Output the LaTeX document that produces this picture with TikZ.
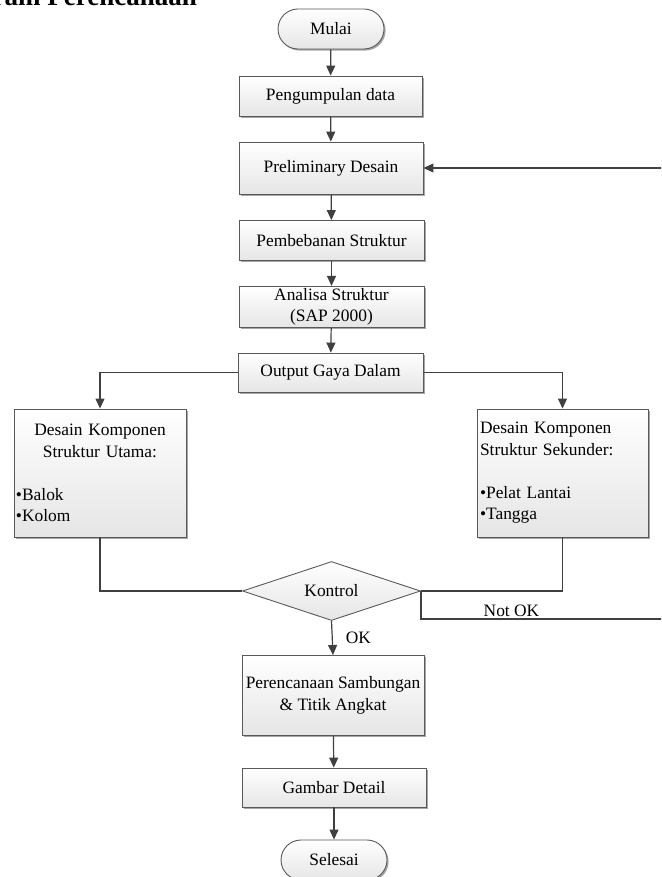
\documentclass[tikz,border=0pt]{standalone}
\usepackage{fontspec}
\setmainfont{Liberation Serif}
\usetikzlibrary{shapes,arrows.meta,positioning,shadows}

\begin{document}
\begin{tikzpicture}[x=1pt,y=-1pt,
  font=\fontsize{17.4}{21.5}\selectfont,
  proses/.style={draw=black!65, line width=0.9pt, top color=white, bottom color=black!10,
    inner sep=2pt, align=center,
    drop shadow={shadow xshift=1.6pt, shadow yshift=-1.6pt, fill=black!35, opacity=1}},
  terminal/.style={proses, rounded corners=20pt},
  keputusan/.style={diamond, draw=black!65, line width=0.9pt, top color=white, bottom color=black!10,
    inner sep=0pt, aspect=3, minimum width=178pt, minimum height=59pt},
  garis/.style={draw=black!75, line width=1.2pt},
  panah/.style={garis, -{Triangle[length=10pt,width=9pt]}},
  label/.style={inner sep=1pt}]

\useasboundingbox (0,0) rectangle (661,877);
\clip (0,0) rectangle (661,877);

% judul (terpotong di tepi atas)
\node[font=\fontsize{27}{29}\selectfont\bfseries, anchor=base east, inner sep=0pt] (judul) at (197,6) {Diagram Perencanaan};

% alur utama
\node[terminal, minimum width=106pt, minimum height=40pt] (mulai) at (331,29) {Mulai};
\node[proses, minimum width=183pt, minimum height=40pt] (kumpul) at (330.5,96) {Pengumpulan data};
\node[proses, minimum width=184pt, minimum height=52pt] (prelim) at (331,168) {Preliminary Desain};
\node[proses, minimum width=185pt, minimum height=40pt] (beban) at (331.5,240.5) {Pembebanan Struktur};
\node[proses, minimum width=185pt, minimum height=40pt] (analisa) at (331.5,307) {Analisa Struktur\\(SAP 2000)};
\node[proses, minimum width=185pt, minimum height=39pt] (output) at (330.5,372.5) {Output Gaya Dalam};

% cabang desain
\node[proses, minimum height=128pt, text width=168pt, align=left] (utama) at (100,473)
  {\makebox[168pt]{Desain Komponen}\\\makebox[168pt]{Struktur Utama:}\\[21.5pt]•Balok\\•Kolom};
\node[proses, minimum height=128pt, text width=165pt, inner xsep=3pt, align=left] (sekunder) at (562.5,473)
  {Desain Komponen\\Struktur Sekunder:\\[21.5pt]•Pelat Lantai\\•Tangga};

\node[keputusan] (kontrol) at (331.5,591) {Kontrol};

\node[proses, minimum width=182pt, minimum height=80pt] (rencana) at (333,695.5) {Perencanaan Sambungan\\\& Titik Angkat};
\node[proses, minimum width=184pt, minimum height=39pt] (gambar) at (334,787.5) {Gambar Detail};
\node[terminal, minimum width=106pt, minimum height=40pt] (selesai) at (334,860) {Selesai};

\coordinate (balik) at (663,619);

% penghubung
\draw[panah] (mulai) -- (kumpul);
\draw[panah] (kumpul) -- (prelim);
\draw[panah] (prelim) -- (beban);
\draw[panah] (beban) -- (analisa);
\draw[panah] (analisa) -- (output);
\draw[panah] (output.west) -| (utama.north);
\draw[panah] (output.east) -| (sekunder.north);
\draw[garis] (utama.south) |- (kontrol.west);
\draw[garis] (sekunder.south) |- (kontrol.east);
\draw[garis] (kontrol.east) |- (balik) node[label, pos=0.687, above=1pt] {Not OK};
\draw[panah] (balik) |- (prelim.east);
\draw[panah] (kontrol.south) -- node[label, right=12pt] {OK} (rencana.north);
\draw[panah] (rencana) -- (gambar);
\draw[panah] (gambar) -- (selesai);
\end{tikzpicture}
\end{document}
